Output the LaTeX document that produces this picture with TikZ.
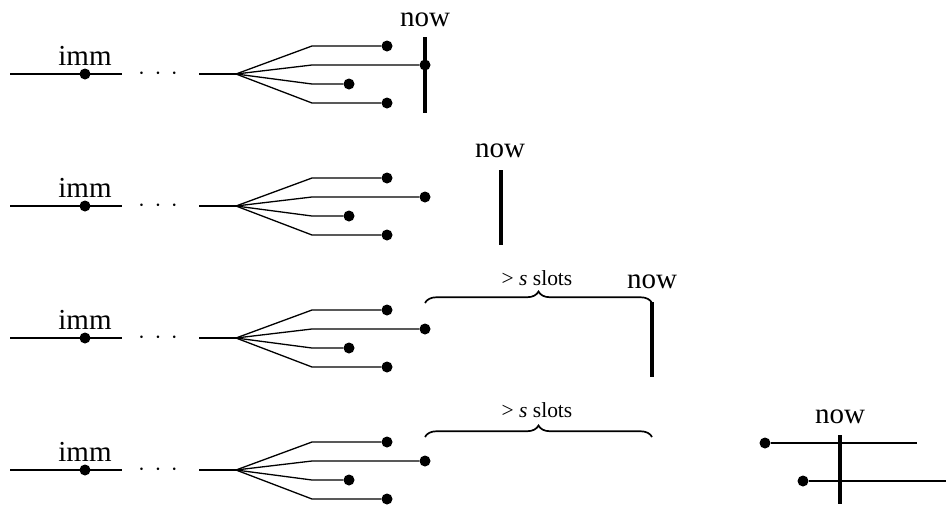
\documentclass[tikz,border=0pt]{standalone}
\usepackage{fontspec}
\setmainfont{Liberation Serif}
\usetikzlibrary{decorations.pathreplacing}
\begin{document}
\begin{tikzpicture}[x=1pt,y=-1pt,
  line/.style={line width=1.3pt},
  nowbar/.style={line width=3.6pt},
  dot/.style={circle,fill,inner sep=0pt,minimum size=11pt},
  lbl/.style={font=\fontsize{29}{30}\selectfont, anchor=base, inner sep=0pt},
  slbl/.style={font=\fontsize{21.5}{22}\selectfont, anchor=base, inner sep=0pt},
  brc/.style={decorate,decoration={brace,amplitude=11.5pt},line width=1.7pt}]
\useasboundingbox (0,0) rectangle (946,504);

\foreach \r/\d in {1/0,2/132,3/264,4/396}{
  \coordinate (L\r) at (10,74+\d);
  \coordinate (R\r) at (122,74+\d);
  \draw[line] (L\r) -- (R\r);
  \node[dot] (imm\r) at (85,74+\d) {};
  \node[lbl] (immt\r) at (85,65+\d) {imm};
  \node[lbl] (dd\r) at (158,79+\d) {$\cdot\kern4pt\cdot\kern4pt\cdot$};
  \coordinate (S\r) at (199,74+\d);
  \coordinate (F\r) at (236,74+\d);
  \draw[line] (S\r) -- (F\r);
  \foreach \k/\y/\e in {a/46/387, b/65/425, c/84/349, d/103/387}{
    \coordinate (C\r\k) at (312,\y+\d);
    \node[dot] (E\r\k) at (\e,\y+\d) {};
    \draw[line] (F\r) -- (C\r\k) -- (E\r\k);
  }
}

% row 1
\node[lbl] (now1) at (425,26) {now};
\coordinate (n1t) at (425,37);
\coordinate (n1b) at (425,113);
\draw[nowbar] (n1t) -- (n1b);

% row 2
\node[lbl] (now2) at (500,157) {now};
\coordinate (n2t) at (501,170);
\coordinate (n2b) at (501,245);
\draw[nowbar] (n2t) -- (n2b);

% row 3
\coordinate (b3l) at (425,303);
\coordinate (b3r) at (652,303);
\draw[brc] (b3l) -- (b3r);
\node[slbl] (sl3) at (537,285) {> \textit{s} slots};
\node[lbl] (now3) at (652,288) {now};
\coordinate (n3t) at (652,302);
\coordinate (n3b) at (652,377);
\draw[nowbar] (n3t) -- (n3b);

% row 4
\coordinate (b4l) at (425,437);
\coordinate (b4r) at (652,437);
\draw[brc] (b4l) -- (b4r);
\node[slbl] (sl4) at (537,417) {> \textit{s} slots};

% bottom right
\node[dot] (p1) at (765,443) {};
\node[dot] (p2) at (803,481) {};
\coordinate (q1) at (917,443);
\coordinate (q2) at (946,481);
\draw[line] (p1) -- (q1);
\draw[line] (p2) -- (q2);
\node[lbl] (now4) at (840,423) {now};
\coordinate (n4t) at (840,435);
\coordinate (n4b) at (840,504);
\draw[nowbar] (n4t) -- (n4b);
\end{tikzpicture}
\end{document}
